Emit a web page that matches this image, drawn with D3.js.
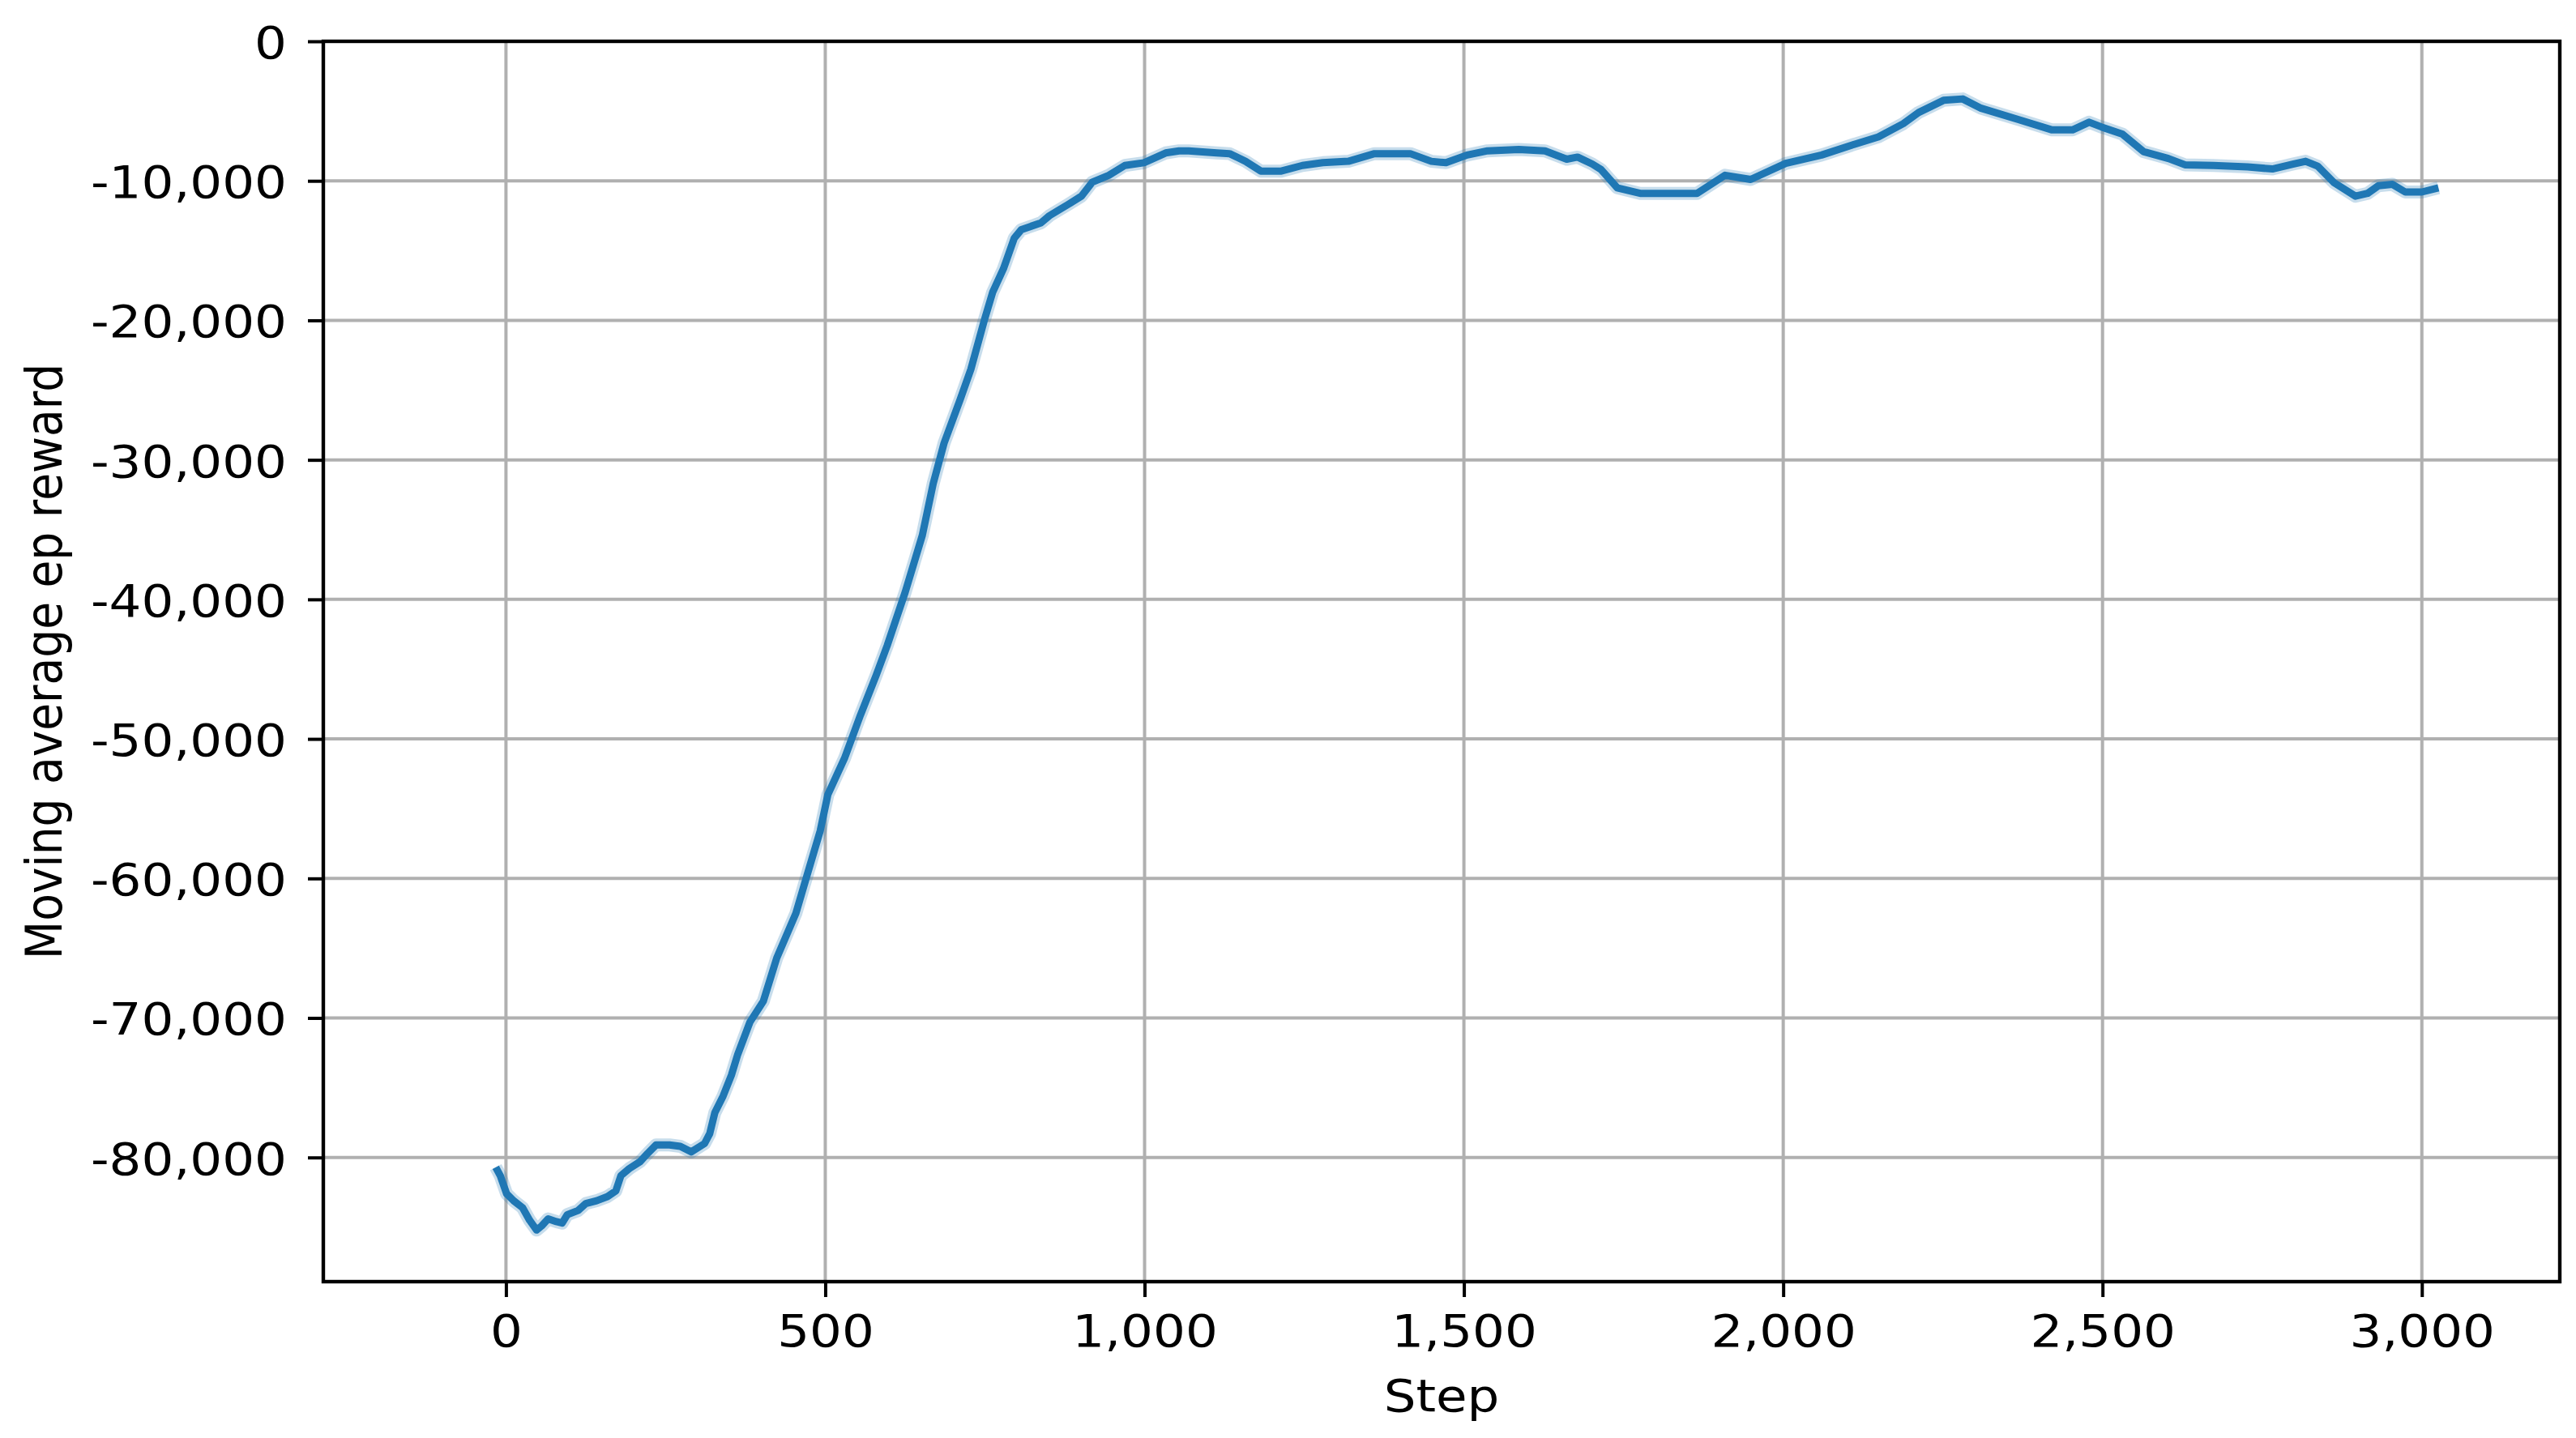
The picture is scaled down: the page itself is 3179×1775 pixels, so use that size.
<!DOCTYPE html>
<html>
<head>
<meta charset="utf-8">
<script src="https://cdn.jsdelivr.net/npm/d3@7"></script>
<style>
  html, body { margin: 0; padding: 0; background: #fff; }
  svg { display: block; }
  text { font-family: "DejaVu Sans", sans-serif; }
</style>
</head>
<body>
<script>
// ---- data ----
const steps = [-16, -9, 1, 12, 26, 37, 48, 56, 66, 79, 88, 96, 113, 125, 142, 159, 172, 180, 193, 210,
  222, 235, 256, 273, 290, 311, 319, 327, 340, 353, 363, 382, 403, 424, 454, 470, 492, 504, 530, 555,
  580, 597, 625, 652, 669, 686, 711, 728, 749, 762, 779, 796, 807, 838, 851, 880, 901, 918, 944, 969,
  999, 1033, 1054, 1069, 1113, 1133, 1158, 1182, 1214, 1247, 1279, 1319, 1360, 1416, 1449, 1472, 1505, 1537, 1586, 1627,
  1661, 1678, 1701, 1715, 1740, 1776, 1865, 1909, 1949, 2004, 2060, 2110, 2149, 2188, 2212, 2251, 2281, 2310, 2368, 2421,
  2453, 2479, 2499, 2531, 2564, 2603, 2629, 2674, 2727, 2766, 2798, 2818, 2837, 2863, 2896, 2915, 2932, 2954, 2974, 3000, 3026];
const rewards = [-80700, -81300, -82600, -83100, -83600, -84500, -85200, -84900, -84400, -84600, -84700, -84100, -83800, -83300, -83100, -82800, -82400, -81300, -80800, -80300,
  -79700, -79100, -79100, -79200, -79600, -79000, -78300, -76800, -75600, -74100, -72600, -70300, -68800, -65700, -62500, -60000, -56600, -54000, -51400, -48300,
  -45400, -43300, -39500, -35400, -31700, -28800, -25700, -23500, -20000, -18000, -16300, -14100, -13500, -13000, -12500, -11700, -11100, -10100, -9600, -8900,
  -8700, -8000, -7850, -7850, -8000, -8050, -8600, -9300, -9300, -8900, -8700, -8600, -8050, -8050, -8600, -8700, -8150, -7850, -7750, -7850,
  -8450, -8300, -8800, -9200, -10500, -10900, -10900, -9600, -9900, -8750, -8150, -7400, -6850, -5900, -5100, -4230, -4130, -4800, -5600, -6350,
  -6350, -5800, -6150, -6650, -7900, -8400, -8850, -8900, -9000, -9150, -8800, -8600, -8950, -10150, -11100, -10900, -10350, -10250, -10800, -10800, -10500];
const xTicks = [0, 500, 1000, 1500, 2000, 2500, 3000];
const yTicks = [0, -10000, -20000, -30000, -40000, -50000, -60000, -70000, -80000];
const xLabel = "Step";
const yLabel = "Moving average ep reward";

// ---- layout ----
const W = 3179, H = 1775;
const pL = 399, pR = 3159, pT = 51, pB = 1582;
const FS = 55;
const SX = 1.14; // horizontal stretch of text seen in the reference

const fmt = d3.formatLocale({decimal: ".", thousands: ",", grouping: [3], currency: ["$", ""], minus: "-"}).format(",");

const x = d3.scaleLinear().domain([-286, 3216]).range([pL, pR]);
const y = d3.scaleLinear().domain([-88900, 0]).range([pB, pT]);

const svg = d3.select("body").append("svg").attr("width", W).attr("height", H);
svg.append("rect").attr("width", W).attr("height", H).attr("fill", "#fff");

// grid
const grid = svg.append("g");
grid.selectAll("line.gx").data(xTicks).join("line").attr("class", "gx")
  .attr("x1", d => x(d)).attr("x2", d => x(d)).attr("y1", pT).attr("y2", pB)
  .attr("stroke", "#b0b0b0").attr("stroke-width", 4);
grid.selectAll("line.gy").data(yTicks).join("line").attr("class", "gy")
  .attr("y1", d => y(d)).attr("y2", d => y(d)).attr("x1", pL).attr("x2", pR)
  .attr("stroke", "#b0b0b0").attr("stroke-width", 4);

// data line
const pts = steps.map((s, i) => [s, rewards[i]]);
const line = d3.line().x(d => x(d[0])).y(d => y(d[1]));
svg.append("clipPath").attr("id", "clip").append("rect")
  .attr("x", pL).attr("y", pT).attr("width", pR - pL).attr("height", pB - pT);
svg.append("path").datum(pts).attr("d", line).attr("fill", "none")
  .attr("stroke", "#1f77b4").attr("stroke-opacity", 0.25).attr("stroke-width", 16)
  .attr("stroke-linejoin", "round").attr("clip-path", "url(#clip)");
svg.append("path").datum(pts).attr("d", line).attr("fill", "none")
  .attr("stroke", "#1f77b4").attr("stroke-width", 9)
  .attr("stroke-linejoin", "round").attr("stroke-linecap", "butt").attr("clip-path", "url(#clip)");

// axes
const xAxis = svg.append("g").attr("transform", `translate(0,${pB})`)
  .call(d3.axisBottom(x).tickValues(xTicks).tickFormat(fmt).tickSize(19).tickPadding(22));
const yAxis = svg.append("g").attr("transform", `translate(${pL},0)`)
  .call(d3.axisLeft(y).tickValues(yTicks).tickFormat(fmt).tickSize(19).tickPadding(26));
[xAxis, yAxis].forEach(g => {
  g.select(".domain").remove();
  g.selectAll(".tick line").attr("stroke", "#000").attr("stroke-width", 4);
  g.selectAll(".tick text").attr("fill", "#000").style("font-size", FS + "px")
    .style("font-family", "'DejaVu Sans', sans-serif");
});
xAxis.selectAll(".tick text").attr("transform", `scale(${SX},1)`);
yAxis.selectAll(".tick text").attr("dy", "0.37em")
  .attr("x", 0).attr("transform", `translate(-45,0) scale(${SX},1)`);

// spines
svg.append("rect").attr("x", pL).attr("y", pT).attr("width", pR - pL).attr("height", pB - pT)
  .attr("fill", "none").attr("stroke", "#000").attr("stroke-width", 4.4);

// axis labels
svg.append("text").attr("transform", `translate(${(pL + pR) / 2},1742) scale(${SX},1)`)
  .attr("text-anchor", "middle").style("font-size", FS + "px").attr("fill", "#000").text(xLabel);
svg.append("text").attr("transform", `translate(76,${(pT + pB) / 2}) scale(${SX},1) rotate(-90)`)
  .attr("text-anchor", "middle").style("font-size", FS + "px").attr("fill", "#000").text(yLabel);
</script>
</body>
</html>
